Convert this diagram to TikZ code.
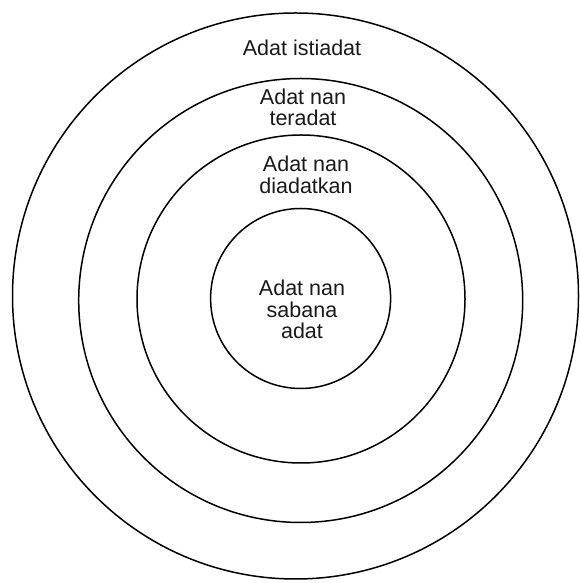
\documentclass[tikz,border=0pt]{standalone}
\usepackage{fontspec}
\setmainfont{Liberation Sans}
\begin{document}
\begin{tikzpicture}[x=1pt,y=1pt,
  ring/.style={circle, draw, line width=1.5pt, inner sep=0pt},
  lbl/.style={align=center, font=\fontsize{21.5}{21.5}\selectfont, inner sep=0pt, text=black!90}]
\useasboundingbox (0,0) rectangle (579,583);
\node[ring, minimum size=566pt] (outer) at (295.5,287) {};
\node[ring, minimum size=444pt] (second) at (300.7,282.5) {};
\node[ring, minimum size=328pt] (third) at (301,284) {};
\node[ring, minimum size=180pt] (inner) at (300.6,284.5) {};
\node[lbl] (t1) at (302,535) {Adat istiadat};
\node[lbl] (t2) at (303,475.5) {Adat nan\\teradat};
\node[lbl] (t3) at (306,408) {Adat nan\\diadatkan};
\node[lbl] (t4) at (302,273.5) {Adat nan\\sabana\\adat};
\end{tikzpicture}
\end{document}
